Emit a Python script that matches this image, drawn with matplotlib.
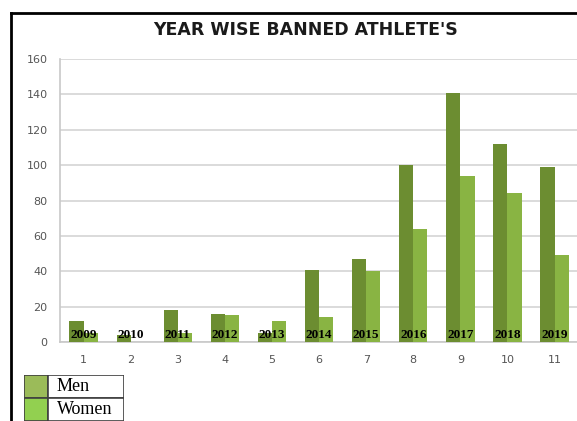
import numpy as np
import matplotlib.pyplot as plt
from matplotlib.lines import Line2D
from matplotlib.patches import Rectangle

categorias = list(range(1, 12))
anos = ["2009", "2010", "2011", "2012", "2013", "2014", "2015", "2016", "2017", "2018", "2019"]
homens = [12, 4, 18, 16, 5, 41, 47, 100, 141, 112, 99]
mulheres = [5, 0, 5, 15, 12, 14, 40, 64, 94, 84, 49]

cor_homens = "#6c8d31"
cor_mulheres = "#89b443"

fig = plt.figure(figsize=(5.77, 4.21), dpi=100)
ax = fig.add_axes([0.104, 0.1876, 0.898, 0.672])

x = np.array(categorias)
larg = 0.3
ax.bar(x - larg / 2, homens, width=larg, color=cor_homens, zorder=3)
ax.bar(x + larg / 2, mulheres, width=larg, color=cor_mulheres, zorder=3)

for xi, ano in zip(x, anos):
    ax.text(xi, 0.5, ano, ha="center", va="bottom", fontsize=9.5,
            fontweight="bold", family="Liberation Serif", color="black", zorder=4)

ax.set_xlim(0.5, 11.5)
ax.set_ylim(0, 160)
ax.set_yticks(range(0, 161, 20))
ax.set_xticks(x)
ax.grid(axis="y", color="#d4d4d4", linewidth=1.2, zorder=0)
ax.tick_params(length=0, labelsize=8, colors="#555555")
ax.tick_params(axis="y", pad=9)
ax.tick_params(axis="x", pad=9)
for s in ["top", "right"]:
    ax.spines[s].set_visible(False)
for s in ["left", "bottom"]:
    ax.spines[s].set_color("#c8c8c8")
    ax.spines[s].set_linewidth(1.2)

fig.text(0.529, 0.929, "YEAR WISE BANNED ATHLETE'S", ha="center", va="center",
         fontsize=12.5, fontweight="bold", family="DejaVu Sans", color="#1a1a1a")

# moldura
fig.add_artist(Line2D([0.019, 0.019], [0.969, 0.0], color="black", lw=2, transform=fig.transFigure))
fig.add_artist(Line2D([0.019, 1.0], [0.969, 0.969], color="black", lw=2, transform=fig.transFigure))

# legenda em forma de tabela
lg = fig.add_axes([24 / 577, 0.0, 100 / 577, 46 / 421])
lg.set_xlim(0, 100)
lg.set_ylim(0, 46)
lg.axis("off")
linhas = [("Men", "#9bbb59"), ("Women", "#92d050")]
for i, (nome, cor) in enumerate(linhas):
    y0 = 46 - (i + 1) * 23
    lg.add_patch(Rectangle((0, y0), 24, 23, facecolor=cor, edgecolor="#404040", lw=1.2))
    lg.add_patch(Rectangle((24, y0), 76, 23, facecolor="white", edgecolor="#404040", lw=1.2))
    lg.text(33, y0 + 11.5, nome, ha="left", va="center", fontsize=13,
            family="Liberation Serif", color="black")

fig.savefig("out.png", dpi=100)
